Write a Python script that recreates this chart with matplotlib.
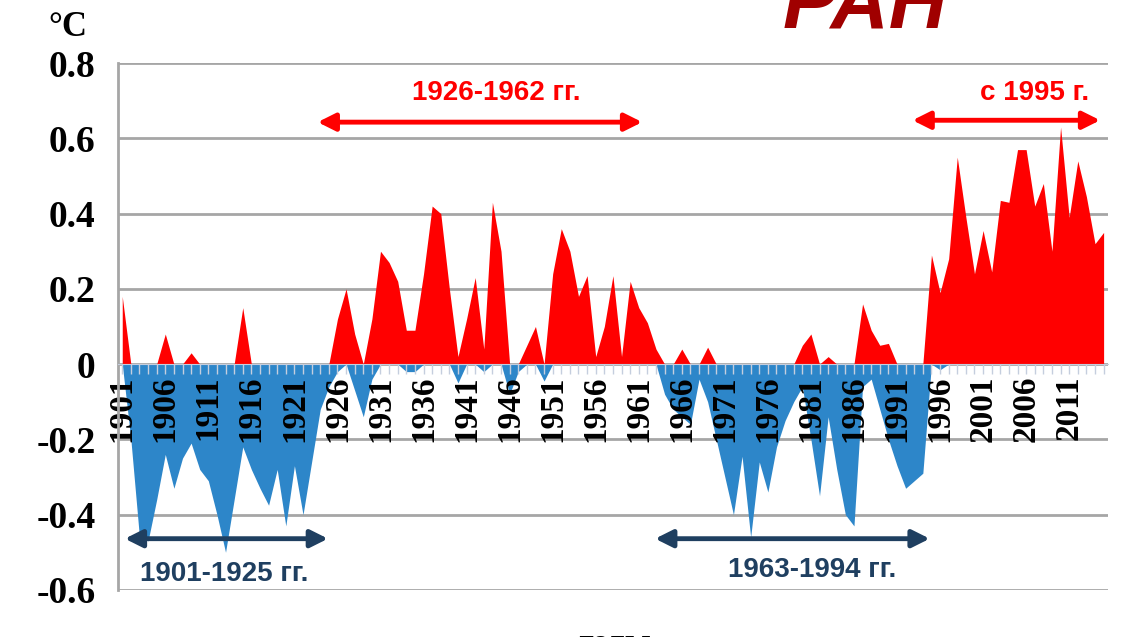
import matplotlib.pyplot as plt
import numpy as np

# годы и аномалии температуры (°C)
years = list(range(1901, 2016))

# положительные аномалии (красная область)
warm = [0.18, 0, 0, 0, 0, 0.08, 0, 0, 0.03, 0,
        0, 0, 0, 0, 0.15, 0, 0, 0, 0, 0,
        0, 0, 0, 0, 0, 0.12, 0.20, 0.08, 0, 0.12,
        0.30, 0.27, 0.22, 0.09, 0.09, 0.24, 0.42, 0.40, 0.20, 0.02,
        0.12, 0.23, 0.04, 0.43, 0.30, 0, 0, 0.05, 0.10, 0,
        0.24, 0.36, 0.30, 0.18, 0.235, 0.02, 0.10, 0.235, 0.02, 0.22,
        0.15, 0.11, 0.04, 0, 0, 0.04, 0, 0, 0.045, 0,
        0, 0, 0, 0, 0, 0, 0, 0, 0, 0.05,
        0.08, 0, 0.02, 0, 0, 0, 0.16, 0.09, 0.05, 0.055,
        0, 0, 0, 0, 0.29, 0.19, 0.28, 0.55, 0.39, 0.24,
        0.355, 0.245, 0.435, 0.43, 0.57, 0.57, 0.42, 0.48, 0.30, 0.63,
        0.39, 0.54, 0.445, 0.32, 0.35]

# отрицательные аномалии (синяя область)
cold = [0, -0.20, -0.46, -0.47, -0.36, -0.24, -0.33, -0.25, -0.21, -0.28,
        -0.31, -0.40, -0.50, -0.36, -0.22, -0.28, -0.33, -0.375, -0.28, -0.43,
        -0.27, -0.40, -0.26, -0.12, -0.06, -0.02, 0, -0.07, -0.14, -0.04,
        0, 0, 0, -0.02, -0.02, 0, 0, 0, 0, -0.05,
        0, 0, -0.02, 0, 0, -0.08, -0.02, 0, 0, -0.045,
        0, 0, 0, 0, 0, 0, 0, 0, 0, 0,
        0, 0, 0, -0.08, -0.12, -0.14, -0.16, -0.04, -0.10, -0.20,
        -0.30, -0.40, -0.245, -0.46, -0.26, -0.34, -0.22, -0.15, -0.10, -0.06,
        -0.20, -0.35, -0.14, -0.28, -0.40, -0.43, -0.06, -0.04, -0.12, -0.20,
        -0.27, -0.33, -0.31, -0.29, 0, -0.015, 0, 0, 0, 0,
        0, 0, 0, 0, 0, 0, 0, 0, 0, 0,
        0, 0, 0, 0, 0]

yticks = [-0.6, -0.4, -0.2, 0, 0.2, 0.4, 0.6, 0.8]
ytick_labels = ['-0.6', '-0.4', '-0.2', '0', '0.2', '0.4', '0.6', '0.8']
xticks = years[::5][:23]

serif = 'Liberation Serif'
sans = 'Liberation Sans'
red = '#ff0000'
navy = '#1f3f60'

fig = plt.figure(figsize=(11.34, 6.37), dpi=100)
ax = fig.add_axes([0.104, 0.074, 0.873, 0.827])

# сетка под заливкой
for y in yticks:
    ax.axhline(y, color='#a6a6a6', lw=2, zorder=0)

ax.fill_between(years, 0, warm, color=red, lw=0, zorder=1)
ax.fill_between(years, 0, cold, color='#2d86c9', lw=0, zorder=1)

ax.set_xlim(1900.5, 2015.5)
ax.set_ylim(-0.6, 0.8)

# ось X проходит через ноль
ax.spines['bottom'].set_position(('data', 0))
ax.spines['bottom'].set_color('#c5cede')
ax.spines['bottom'].set_linewidth(0.8)
ax.spines['top'].set_visible(False)
ax.spines['right'].set_visible(False)
ax.spines['left'].set_color('#a6a6a6')
ax.spines['left'].set_linewidth(2)

ax.set_xticks(xticks)
ax.set_xticklabels([str(y) for y in xticks], rotation=90,
                   fontfamily=serif, fontweight='bold', fontsize=24)
ax.set_xticks(years, minor=True)
ax.tick_params(axis='x', which='both', direction='out', length=7,
               width=1, color='#c5cede', pad=1)

ax.set_yticks(yticks)
ax.set_yticklabels(ytick_labels, fontfamily=serif, fontweight='bold', fontsize=27)
ax.tick_params(axis='y', length=0, pad=16)

# периоды потепления и похолодания
periods = [
    ('1926-1962 гг.', 1923.7, 1961.4, 0.643, 1944.5, 0.72, red),
    ('с 1995 г.', 1992.8, 2014.6, 0.648, 2007.0, 0.72, red),
    ('1901-1925 гг.', 1901.3, 1924.9, -0.464, 1912.9, -0.557, navy),
    ('1963-1994 гг.', 1962.9, 1994.8, -0.464, 1981.1, -0.547, navy),
]
for label, x0, x1, ya, xt, yt, c in periods:
    ax.annotate('', xy=(x1, ya), xytext=(x0, ya),
                arrowprops=dict(arrowstyle='<|-|>', color=c, lw=3.5,
                                mutation_scale=26, shrinkA=0, shrinkB=0),
                zorder=4)
    ax.text(xt, yt, label, color=c, fontfamily=sans, fontweight='bold',
            fontsize=20, ha='center', va='center', zorder=4)

fig.text(0.06, 1 - 28 / 637, '°C', fontfamily=serif, fontweight='bold',
         fontsize=25, ha='center', va='center')
fig.text(0.542, 1 - 628 / 637, 'годы', fontfamily=serif, fontweight='bold',
         fontsize=24, ha='center', va='top')
fig.text(783 / 1134, 1 - 28 / 637, 'РАН', fontfamily=sans, fontweight='bold',
         fontstyle='italic', fontsize=58, color='#a00000', ha='left',
         va='baseline')

fig.savefig('out.png', dpi=100)
